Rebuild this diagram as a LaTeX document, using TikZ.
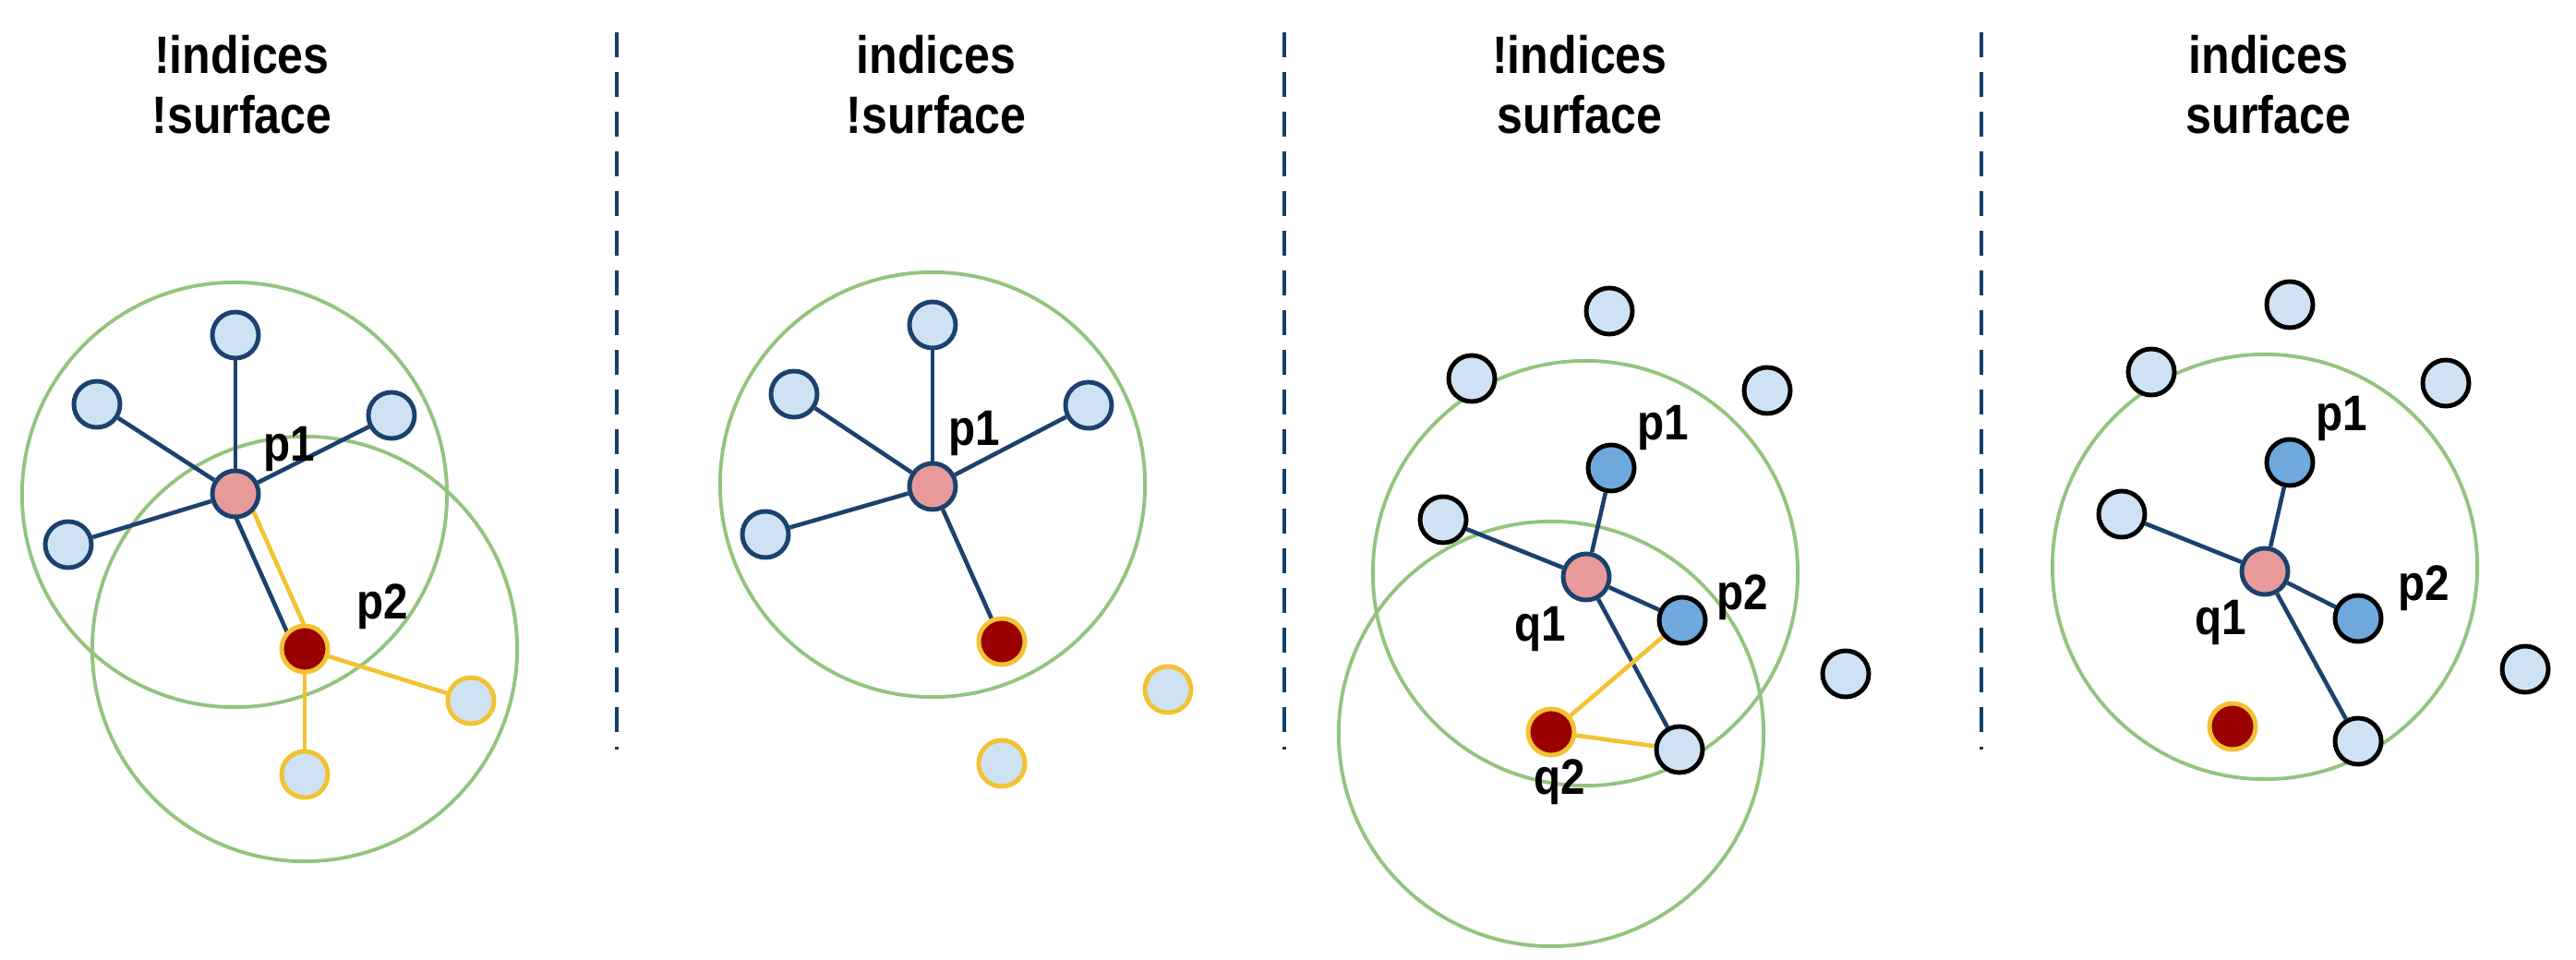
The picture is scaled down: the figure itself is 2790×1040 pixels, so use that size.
\documentclass[tikz,border=0pt]{standalone}
\usepackage{fontspec}
\setmainfont{Liberation Sans}
\newfontfamily\ttlf{Liberation Sans}[FakeStretch=0.88]
\usetikzlibrary{calc}
\definecolor{navy}{HTML}{1B426E}
\definecolor{sepblue}{HTML}{123F6B}
\definecolor{lightb}{HTML}{CFE2F3}
\definecolor{midb}{HTML}{6FA8DC}
\definecolor{pinkn}{HTML}{E89A9A}
\definecolor{darkr}{HTML}{990000}
\definecolor{gold}{HTML}{F3C232}
\definecolor{ringg}{HTML}{93C47D}
\pgfdeclarelayer{bg}
\pgfdeclarelayer{mid}
\pgfsetlayers{bg,mid,main}
\tikzset{
  pnt/.style={circle, minimum size=0.5cm, inner sep=0pt, line width=1.4pt},
  lbn/.style={pnt, fill=lightb, draw=navy},
  lbk/.style={pnt, fill=lightb, draw=black},
  lby/.style={pnt, fill=lightb, draw=gold},
  pkn/.style={pnt, fill=pinkn, draw=navy},
  drn/.style={pnt, fill=darkr, draw=gold},
  mbn/.style={pnt, fill=midb, draw=black},
  bedge/.style={draw=navy, line width=1.3pt},
  yedge/.style={draw=gold, line width=1.3pt},
  ring/.style={circle, draw=ringg, line width=1.1pt, minimum size=4.6cm, inner sep=0pt},
  sepline/.style={draw=sepblue, line width=1.4pt, dash pattern=on 0.27cm off 0.16cm},
  ttl/.style={font=\ttlf\bfseries\fontsize{16.2}{18}\selectfont, anchor=base, inner sep=0pt},
  lab/.style={font=\ttlf\bfseries\fontsize{15.4}{17}\selectfont, anchor=base west, inner sep=0pt}
}
\begin{document}
\begin{tikzpicture}[x=0.01cm, y=-0.01cm]
\useasboundingbox (0,0) rectangle (2790,1040);

% separators
\coordinate (s1a) at (668,35);  \coordinate (s1b) at (668,812);
\coordinate (s2a) at (1391,35); \coordinate (s2b) at (1391,812);
\coordinate (s3a) at (2146,35); \coordinate (s3b) at (2146,812);
\draw[sepline] (s1a) -- (s1b);
\draw[sepline] (s2a) -- (s2b);
\draw[sepline] (s3a) -- (s3b);

% titles
\node[ttl] (t1a) at (262,80) {!indices};
\node[ttl] (t1b) at (262,145) {!surface};
\node[ttl] (t2a) at (1014,80) {indices};
\node[ttl] (t2b) at (1014,145) {!surface};
\node[ttl] (t3a) at (1711,80) {!indices};
\node[ttl] (t3b) at (1711,145) {surface};
\node[ttl] (t4a) at (2457,80) {indices};
\node[ttl] (t4b) at (2457,145) {surface};

% ===== panel 1 =====
\begin{pgfonlayer}{bg}
\node[ring] (r1a) at (254,536) {};
\node[ring] (r1b) at (330,703) {};
\end{pgfonlayer}
\node[lbn] (a1top) at (255,363) {};
\node[lbn] (a1ul) at (105,438) {};
\node[lbn] (a1ur) at (424,450) {};
\node[lbn] (a1ll) at (74,590) {};
\node[pkn] (a1p1) at (255,535) {};
\node[drn] (a1p2) at (330,703) {};
\node[lby] (a1y1) at (510,759) {};
\node[lby] (a1y2) at (330,839) {};
\node[lab] (a1l1) at (285,500) {p1};
\node[lab] (a1l2) at (386,670) {p2};
\begin{pgfonlayer}{mid}
\draw[bedge] (a1p1) -- (a1top);
\draw[bedge] (a1p1) -- (a1ul);
\draw[bedge] (a1p1) -- (a1ur);
\draw[bedge] (a1p1) -- (a1ll);
\draw[bedge] ($(a1p1)!0.1cm!-90:(a1p2)$) -- ($(a1p2)!0.1cm!90:(a1p1)$);
\draw[yedge] ($(a1p1)!0.1cm!90:(a1p2)$) -- ($(a1p2)!0.1cm!-90:(a1p1)$);
\draw[yedge] (a1p2) -- (a1y1);
\draw[yedge] (a1p2) -- (a1y2);
\end{pgfonlayer}

% ===== panel 2 =====
\begin{pgfonlayer}{bg}
\node[ring] (r2) at (1010,525) {};
\end{pgfonlayer}
\node[lbn] (b2top) at (1010,352) {};
\node[lbn] (b2ul) at (860,427) {};
\node[lbn] (b2ur) at (1179,439) {};
\node[lbn] (b2ll) at (829,579) {};
\node[pkn] (b2p1) at (1010,527) {};
\node[drn] (b2red) at (1085,695) {};
\node[lby] (b2y1) at (1265,747) {};
\node[lby] (b2y2) at (1085,827) {};
\node[lab] (b2l1) at (1027,483) {p1};
\begin{pgfonlayer}{mid}
\draw[bedge] (b2p1) -- (b2top);
\draw[bedge] (b2p1) -- (b2ul);
\draw[bedge] (b2p1) -- (b2ur);
\draw[bedge] (b2p1) -- (b2ll);
\draw[bedge] (b2p1) -- (b2red);
\end{pgfonlayer}

% ===== panel 3 =====
\begin{pgfonlayer}{bg}
\node[ring] (r3a) at (1717,621) {};
\node[ring] (r3b) at (1680,795) {};
\end{pgfonlayer}
\node[lbk] (c3top) at (1743,337) {};
\node[lbk] (c3ul) at (1594,410) {};
\node[lbk] (c3ur) at (1914,423) {};
\node[lbk] (c3fr) at (1999,730) {};
\node[lbk] (c3left) at (1563,563) {};
\node[lbk] (c3br) at (1819,812) {};
\node[mbn] (c3p1) at (1745,507) {};
\node[pkn] (c3q1) at (1718,625) {};
\node[mbn] (c3p2) at (1822,672) {};
\node[drn] (c3q2) at (1680,793) {};
\node[lab] (c3l1) at (1773,477) {p1};
\node[lab] (c3l2) at (1859,660) {p2};
\node[lab] (c3l3) at (1640,695) {q1};
\node[lab] (c3l4) at (1661,860) {q2};
\begin{pgfonlayer}{mid}
\draw[bedge] (c3q1) -- (c3p1);
\draw[bedge] (c3q1) -- (c3left);
\draw[bedge] (c3q1) -- (c3p2);
\draw[bedge] (c3q1) -- (c3br);
\draw[yedge] (c3q2) -- (c3p2);
\draw[yedge] (c3q2) -- (c3br);
\end{pgfonlayer}

% ===== panel 4 =====
\begin{pgfonlayer}{bg}
\node[ring] (r4) at (2453,614) {};
\end{pgfonlayer}
\node[lbk] (d4top) at (2480,330) {};
\node[lbk] (d4ul) at (2330,403) {};
\node[lbk] (d4ur) at (2649,415) {};
\node[lbk] (d4fr) at (2735,725) {};
\node[lbk] (d4left) at (2298,557) {};
\node[lbk] (d4br) at (2554,803) {};
\node[mbn] (d4p1) at (2480,501) {};
\node[pkn] (d4q1) at (2453,619) {};
\node[mbn] (d4p2) at (2554,670) {};
\node[drn] (d4red) at (2418,787) {};
\node[lab] (d4l1) at (2508,467) {p1};
\node[lab] (d4l2) at (2597,650) {p2};
\node[lab] (d4l3) at (2377,687) {q1};
\begin{pgfonlayer}{mid}
\draw[bedge] (d4q1) -- (d4p1);
\draw[bedge] (d4q1) -- (d4left);
\draw[bedge] (d4q1) -- (d4p2);
\draw[bedge] (d4q1) -- (d4br);
\end{pgfonlayer}
\end{tikzpicture}
\end{document}
